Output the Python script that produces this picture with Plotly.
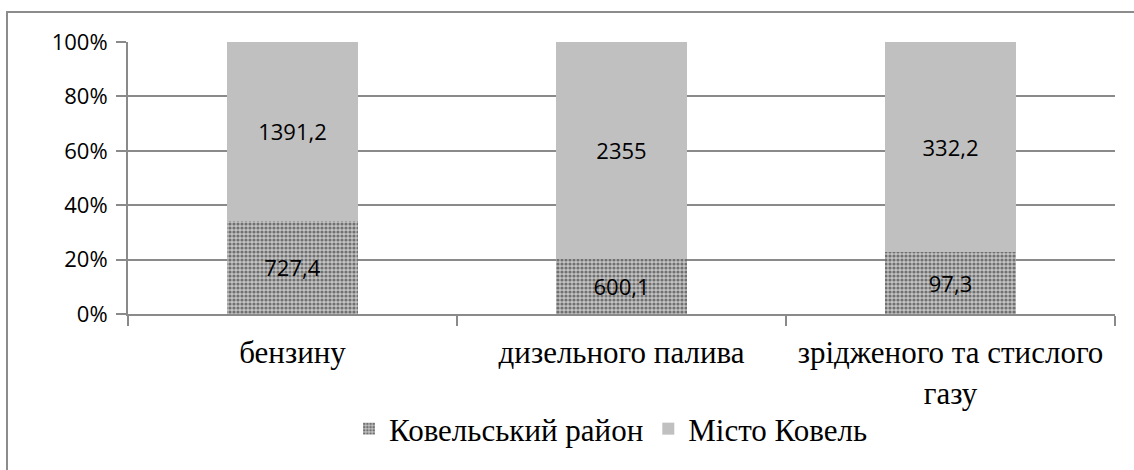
import plotly.graph_objects as go

# Fuel sales by territory (100% stacked)
categories = ["бензину", "дизельного палива", "зрідженого та стислого<br>газу"]
series_names = ["Ковельський район", "Місто Ковель"]
district_values = [727.4, 600.1, 97.3]
city_values = [1391.2, 2355, 332.2]
y_tick_values = [0, 20, 40, 60, 80, 100]
y_tick_labels = ["0%", "20%", "40%", "60%", "80%", "100%"]


def fmt(v):
    s = ("%g" % v)
    return s.replace(".", ",")


W, H = 1134, 470
L, R, T, B = 128, 19, 42, 156
PW, PH = W - L - R, H - T - B


def px_x(x):
    return (x - L) / PW


def px_y(y):
    return (H - B - y) / PH


grid = "#8a8a8a"
SANS = "Open Sans"
SERIF = "Liberation Serif"

fig = go.Figure()
fig.add_trace(go.Bar(
    name=series_names[0],
    x=categories,
    y=district_values,
    text=[fmt(v) for v in district_values],
    textposition="inside",
    insidetextanchor="middle",
    textfont=dict(family=SANS, size=22, color="#000000"),
    marker=dict(
        color="#b4b4b4",
        line=dict(width=0),
        pattern=dict(shape=".", fgcolor="#707070", bgcolor="#c4c4c4",
                     size=4, solidity=0.5, fillmode="replace"),
    ),
))
fig.add_trace(go.Bar(
    name=series_names[1],
    x=categories,
    y=city_values,
    text=[fmt(v) for v in city_values],
    textposition="inside",
    insidetextanchor="middle",
    textfont=dict(family=SANS, size=22, color="#000000"),
    marker=dict(color="#c0c0c0", line=dict(width=0)),
))

fig.update_layout(
    width=W, height=H,
    margin=dict(l=L, r=R, t=T, b=B, pad=0),
    barmode="stack",
    barnorm="percent",
    bargap=0.6,
    plot_bgcolor="#ffffff",
    paper_bgcolor="#ffffff",
    showlegend=True,
    legend=dict(
        orientation="h",
        x=px_x(611), y=px_y(429),
        xanchor="center", yanchor="middle",
        font=dict(family=SERIF, size=31, color="#000000"),
        itemwidth=30,
        traceorder="normal",
        bgcolor="rgba(0,0,0,0)",
    ),
)

fig.update_yaxes(
    range=[0, 100],
    tickvals=y_tick_values,
    ticktext=y_tick_labels,
    showgrid=True, gridcolor=grid, gridwidth=2,
    showline=True, linecolor=grid, linewidth=2,
    ticks="outside", ticklen=10, tickcolor=grid, tickwidth=2,
    tickfont=dict(family=SANS, size=22, color="#000000"),
    ticklabelstandoff=4,
    zeroline=False,
)
fig.update_xaxes(
    type="category",
    showgrid=False,
    showline=True, linecolor=grid, linewidth=2,
    ticks="outside", ticklen=10, tickcolor=grid, tickwidth=2,
    tickson="boundaries",
    tickfont=dict(family=SERIF, size=31, color="#000000"),
    ticklabelstandoff=10,
)

# chart-area border (left and top edges visible inside the frame)
fig.add_shape(
    type="rect", xref="paper", yref="paper",
    x0=px_x(7), x1=px_x(W + 10), y0=px_y(H + 10), y1=px_y(12),
    line=dict(color="#8c8c8c", width=2), fillcolor="rgba(0,0,0,0)",
    layer="below",
)

fig.write_html("out.html")
